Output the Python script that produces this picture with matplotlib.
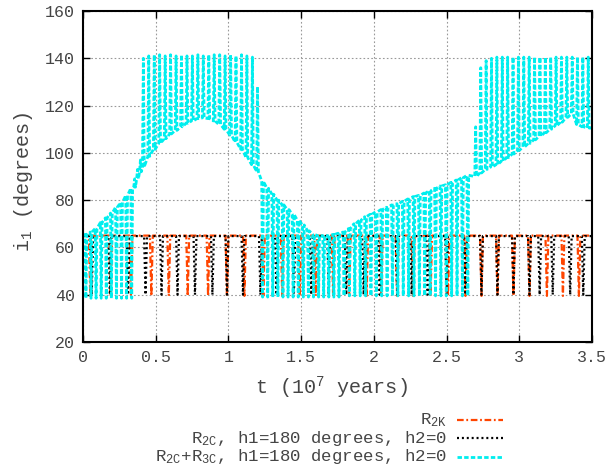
import numpy as np
import matplotlib
matplotlib.use("Agg")
import matplotlib.pyplot as plt
from matplotlib.lines import Line2D

plt.rcParams['font.family'] = ['Liberation Mono', 'DejaVu Sans Mono']
plt.rcParams['mathtext.default'] = 'regular'

TEXT_GREY = '#454545'

# R2K: times (1e7 yr) of the inclination minima, plateau and minimum (deg)
r2k_dips = [0.05, 0.19, 0.33, 0.47, 0.59, 0.72, 0.86, 0.99, 1.11, 1.24,
            1.37, 1.49, 1.60, 1.72, 1.83, 1.95, 2.05, 2.16, 2.27, 2.39,
            2.51, 2.63, 2.74, 2.85, 2.96, 3.07, 3.19, 3.30, 3.41]
r2k_top = 65.0
r2k_min = 39.5

# R2C, h1=180, h2=0
r2c_dips = [0.06, 0.185, 0.31, 0.43, 0.54, 0.65, 0.77, 0.89, 0.99, 1.10,
            1.22, 1.33, 1.45, 1.57, 1.69, 1.81, 1.93, 2.04, 2.16, 2.26,
            2.37, 2.50, 2.63, 2.74, 2.85, 2.96, 3.07, 3.14, 3.23, 3.35, 3.44]
r2c_top = 64.8
r2c_min = 40.0

# R2C+R3C: one entry per excursion -- time, resting value, extreme value
cyan_t = [0.020, 0.055, 0.090, 0.125, 0.160, 0.195, 0.230, 0.265, 0.300, 0.335,
          0.355, 0.375, 0.395,
          0.415, 0.452, 0.490, 0.527, 0.565, 0.602, 0.640, 0.677, 0.715, 0.752,
          0.790, 0.827, 0.865, 0.902, 0.940, 0.977, 1.015, 1.052, 1.090, 1.127,
          1.165, 1.200,
          1.235, 1.270, 1.305, 1.340, 1.375, 1.410, 1.445, 1.480, 1.515, 1.550,
          1.585, 1.620, 1.655, 1.690, 1.725, 1.760,
          1.795, 1.832, 1.869, 1.906, 1.943, 1.980, 2.017, 2.054, 2.091, 2.128,
          2.165, 2.202, 2.239, 2.276, 2.313, 2.350, 2.387, 2.424, 2.461, 2.498,
          2.535, 2.572, 2.609, 2.646,
          2.700, 2.735, 2.772, 2.809, 2.846, 2.883, 2.920, 2.957, 2.994, 3.031,
          3.068, 3.105, 3.142, 3.179, 3.216, 3.253, 3.290, 3.327, 3.364, 3.400,
          3.437, 3.474]
cyan_base = [65.5, 66.5, 68.0, 70.5, 72.5, 74.5, 77.0, 79.0, 82.0, 85.0,
             85.5, 89.0, 92.0,
             94.0, 98.5, 101.5, 104.0, 106.0, 108.0, 109.5, 111.0, 112.5, 113.5,
             114.5, 114.8, 114.5, 113.5, 112.0, 110.0, 107.5, 104.5, 101.5, 98.0,
             95.0, 92.0,
             88.0, 85.0, 82.5, 80.0, 78.0, 76.0, 74.0, 71.5, 69.5, 67.0,
             65.5, 65.0, 65.0, 65.0, 65.5, 66.0,
             66.5, 68.0, 70.0, 71.5, 73.0, 74.0, 75.0, 76.0, 77.0, 78.0,
             78.5, 79.5, 80.5, 81.5, 82.0, 83.0, 84.0, 85.0, 86.0, 86.5,
             87.5, 88.5, 89.5, 90.5,
             90.0, 91.5, 93.0, 94.0, 95.0, 96.5, 98.0, 99.5, 101.0, 102.5,
             104.0, 105.5, 107.0, 108.5, 110.0, 111.5, 113.0, 115.0, 116.5, 112.0,
             111.0, 110.5]
cyan_peak = [38.5, 38.5, 38.5, 38.5, 38.5, 38.5, 38.5, 38.5, 38.5, 38.5,
             89.0, 93.0, 97.0,
             140.0, 141.0, 141.5, 141.5, 141.0, 141.5, 141.0, 141.5, 141.0, 141.0,
             141.5, 141.0, 141.5, 141.5, 141.5, 141.0, 141.5, 141.0, 141.5, 141.0,
             140.5, 128.0,
             39.0, 39.0, 39.0, 39.0, 39.0, 39.0, 39.0, 39.0, 39.0, 39.0,
             39.0, 39.0, 39.0, 39.0, 39.0, 39.0,
             39.5, 39.5, 39.5, 39.5, 39.5, 39.5, 39.5, 39.5, 39.5, 39.5,
             39.5, 39.5, 39.5, 39.5, 39.5, 39.5, 39.5, 39.5, 39.5, 39.5,
             39.5, 39.5, 39.5, 39.5,
             111.0, 136.0, 139.0, 140.0, 140.5, 140.5, 140.5, 140.5, 140.5, 140.5,
             140.5, 140.5, 140.5, 140.5, 140.5, 140.5, 140.5, 140.5, 140.5, 140.5,
             140.5, 140.5]

xticks = [0, 0.5, 1, 1.5, 2, 2.5, 3, 3.5]
xtick_labels = ['0', '0.5', '1', '1.5', '2', '2.5', '3', '3.5']
yticks = [20, 40, 60, 80, 100, 120, 140, 160]


def dip_trace(t_dips, top, bottom, w=0.010):
    """Flat plateau at `top` with narrow excursions down to `bottom`."""
    t, y = [0.0], [top]
    for td in t_dips:
        t += [td - w, td, td + w]
        y += [top, bottom, top]
    t.append(3.55)
    y.append(top)
    return t, y


def spike_trace(t_sp, base, peak, w=0.006, start=65.0):
    """Line resting on `base`, with a quick excursion to `peak` at each time."""
    t, y = [0.0], [start]
    for ts, b, p in zip(t_sp, base, peak):
        t += [ts - w, ts, ts + w]
        y += [b, p, b]
    t.append(3.55)
    y.append(base[-1])
    return t, y


fig = plt.figure(figsize=(6.14, 4.70), dpi=100)
ax = fig.add_axes([83 / 614, 1 - 342 / 470, 509 / 614, 331 / 470])

# grid first so the curves sit on top
ax.set_axisbelow(True)
ax.grid(True, color='#999999', lw=0.8, linestyle=(0, (1.5, 2)))

sty_r2k = dict(color='#ff4500', lw=1.6, linestyle=(0, (3, 1.2, 0.8, 1.2)))
sty_r2c = dict(color='black', lw=1.6, linestyle=(0, (0.9, 1.3)))
sty_cyan = dict(color='#00eeee', lw=2.0, linestyle=(0, (1.6, 0.8)))

t, y = dip_trace(r2k_dips, r2k_top, r2k_min)
ax.plot(t, y, **sty_r2k)
t, y = dip_trace(r2c_dips, r2c_top, r2c_min)
ax.plot(t, y, **sty_r2c)
t, y = spike_trace(cyan_t, cyan_base, cyan_peak)
ax.plot(t, y, **sty_cyan)

ax.set_xlim(0, 3.5)
ax.set_ylim(20, 160)
ax.set_xticks(xticks)
ax.set_xticklabels(xtick_labels)
ax.set_yticks(yticks)
ax.tick_params(direction='in', length=5, width=1, top=True, right=True,
               labelsize=12, labelcolor=TEXT_GREY, pad=6)
for sp in ax.spines.values():
    sp.set_linewidth(1.5)

fig.text(331 / 614, 1 - 388 / 470, 't (10$^{7}$ years)', ha='center',
         va='center', fontsize=14.5, color=TEXT_GREY)
fig.text(24 / 614, 1 - 182 / 470, 'i$_{1}$ (degrees)', ha='center',
         va='center', rotation=90, fontsize=14.5, color=TEXT_GREY)

# key below the plot: text right-aligned, sample line to the right
key_rows = [(420, '$R_{2K}$', sty_r2k),
            (438, '$R_{2C}$, h1=180 degrees, h2=0', sty_r2c),
            (457, '$R_{2C}$+$R_{3C}$, h1=180 degrees, h2=0', sty_cyan)]
for ypix, label, sty in key_rows:
    yf = 1 - ypix / 470
    fig.text(447 / 614, yf, label, ha='right', va='center', fontsize=12.5,
             color=TEXT_GREY)
    fig.add_artist(Line2D([457 / 614, 503 / 614], [yf, yf], **sty))

fig.savefig('out.png', dpi=100)
